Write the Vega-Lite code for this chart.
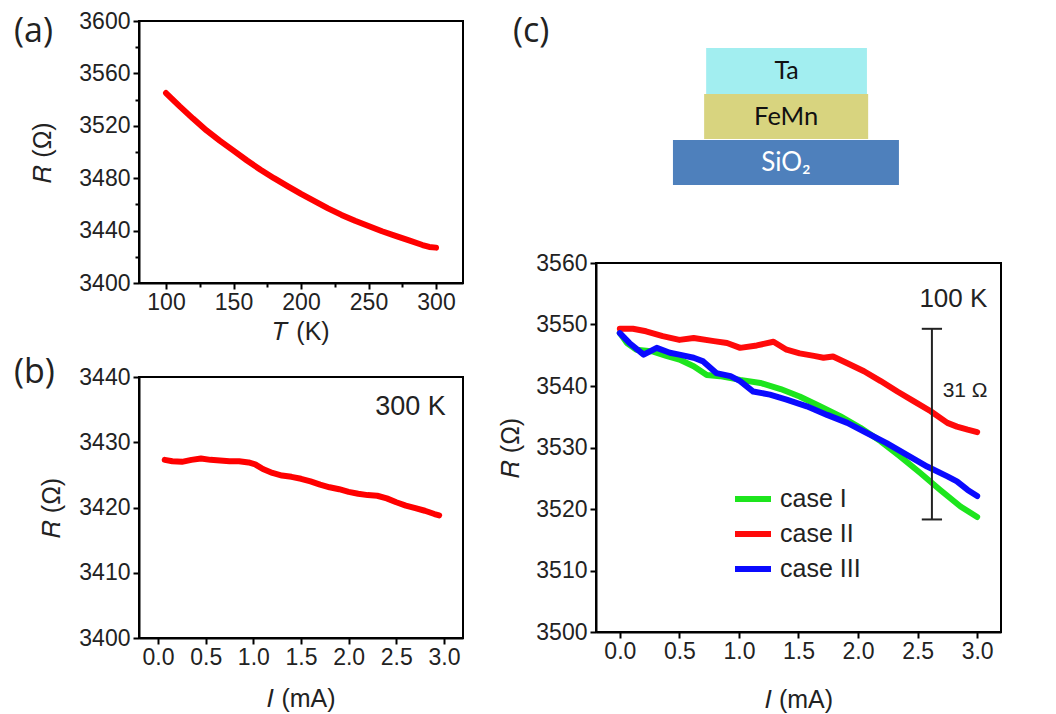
{
  "$schema": "https://vega.github.io/schema/vega-lite/v6.json",
  "background": "white",
  "padding": {"left": 13, "top": 9, "right": 5, "bottom": 0},
  "datasets": {
    "a": [
      {"T": 100, "R": 3545}, {"T": 110, "R": 3535}, {"T": 120, "R": 3525.5}, {"T": 130, "R": 3516.5},
      {"T": 140, "R": 3508.5}, {"T": 150, "R": 3501}, {"T": 160, "R": 3493.5}, {"T": 170, "R": 3486.5},
      {"T": 180, "R": 3480}, {"T": 190, "R": 3474}, {"T": 200, "R": 3468}, {"T": 210, "R": 3462.5},
      {"T": 220, "R": 3457}, {"T": 230, "R": 3452}, {"T": 240, "R": 3447.5}, {"T": 250, "R": 3443.5},
      {"T": 260, "R": 3439.5}, {"T": 270, "R": 3436}, {"T": 280, "R": 3432.5}, {"T": 290, "R": 3429},
      {"T": 295, "R": 3427.5}, {"T": 300, "R": 3427}
    ],
    "b": [
      {"I": 0.07, "R": 3427.3}, {"I": 0.15, "R": 3427.1}, {"I": 0.25, "R": 3427.0}, {"I": 0.35, "R": 3427.3},
      {"I": 0.45, "R": 3427.5}, {"I": 0.55, "R": 3427.3}, {"I": 0.65, "R": 3427.2}, {"I": 0.75, "R": 3427.1},
      {"I": 0.85, "R": 3427.1}, {"I": 0.95, "R": 3426.9}, {"I": 1.02, "R": 3426.6}, {"I": 1.1, "R": 3425.9},
      {"I": 1.2, "R": 3425.3}, {"I": 1.3, "R": 3424.9}, {"I": 1.4, "R": 3424.7}, {"I": 1.5, "R": 3424.4},
      {"I": 1.6, "R": 3424.0}, {"I": 1.7, "R": 3423.5}, {"I": 1.8, "R": 3423.1}, {"I": 1.9, "R": 3422.8},
      {"I": 2.0, "R": 3422.4}, {"I": 2.1, "R": 3422.1}, {"I": 2.2, "R": 3421.9}, {"I": 2.3, "R": 3421.8},
      {"I": 2.4, "R": 3421.4}, {"I": 2.5, "R": 3420.8}, {"I": 2.6, "R": 3420.3}, {"I": 2.7, "R": 3419.9},
      {"I": 2.8, "R": 3419.5}, {"I": 2.9, "R": 3419.0}, {"I": 2.95, "R": 3418.8}
    ],
    "c": [
      {"case": "case I", "I": 0, "R": 3548.6}, {"case": "case I", "I": 0.06, "R": 3547.0},
      {"case": "case I", "I": 0.14, "R": 3545.9}, {"case": "case I", "I": 0.28, "R": 3545.6},
      {"case": "case I", "I": 0.39, "R": 3544.9}, {"case": "case I", "I": 0.5, "R": 3544.3},
      {"case": "case I", "I": 0.62, "R": 3543.2}, {"case": "case I", "I": 0.73, "R": 3541.8},
      {"case": "case I", "I": 0.84, "R": 3541.6}, {"case": "case I", "I": 1.01, "R": 3541.0},
      {"case": "case I", "I": 1.18, "R": 3540.5}, {"case": "case I", "I": 1.35, "R": 3539.5},
      {"case": "case I", "I": 1.51, "R": 3538.3}, {"case": "case I", "I": 1.68, "R": 3536.7},
      {"case": "case I", "I": 1.85, "R": 3535.1}, {"case": "case I", "I": 2.02, "R": 3533.2},
      {"case": "case I", "I": 2.19, "R": 3531.0}, {"case": "case I", "I": 2.35, "R": 3528.6},
      {"case": "case I", "I": 2.52, "R": 3525.9}, {"case": "case I", "I": 2.69, "R": 3523.1},
      {"case": "case I", "I": 2.86, "R": 3520.4}, {"case": "case I", "I": 3.0, "R": 3518.7},
      {"case": "case II", "I": 0, "R": 3549.3}, {"case": "case II", "I": 0.11, "R": 3549.3},
      {"case": "case II", "I": 0.22, "R": 3548.9}, {"case": "case II", "I": 0.36, "R": 3548.1},
      {"case": "case II", "I": 0.5, "R": 3547.5}, {"case": "case II", "I": 0.62, "R": 3547.8},
      {"case": "case II", "I": 0.79, "R": 3547.3}, {"case": "case II", "I": 0.9, "R": 3547.0},
      {"case": "case II", "I": 1.01, "R": 3546.2}, {"case": "case II", "I": 1.15, "R": 3546.6},
      {"case": "case II", "I": 1.29, "R": 3547.2}, {"case": "case II", "I": 1.4, "R": 3545.9},
      {"case": "case II", "I": 1.51, "R": 3545.3}, {"case": "case II", "I": 1.63, "R": 3544.9},
      {"case": "case II", "I": 1.71, "R": 3544.6}, {"case": "case II", "I": 1.79, "R": 3544.8},
      {"case": "case II", "I": 1.91, "R": 3543.7}, {"case": "case II", "I": 2.05, "R": 3542.4},
      {"case": "case II", "I": 2.19, "R": 3540.8}, {"case": "case II", "I": 2.33, "R": 3539.1},
      {"case": "case II", "I": 2.47, "R": 3537.5}, {"case": "case II", "I": 2.61, "R": 3535.9},
      {"case": "case II", "I": 2.75, "R": 3534.0}, {"case": "case II", "I": 2.83, "R": 3533.4},
      {"case": "case II", "I": 2.92, "R": 3532.9}, {"case": "case II", "I": 3.0, "R": 3532.5},
      {"case": "case III", "I": 0, "R": 3548.6}, {"case": "case III", "I": 0.08, "R": 3547.0},
      {"case": "case III", "I": 0.2, "R": 3545.1}, {"case": "case III", "I": 0.31, "R": 3546.2},
      {"case": "case III", "I": 0.42, "R": 3545.4}, {"case": "case III", "I": 0.5, "R": 3545.1},
      {"case": "case III", "I": 0.62, "R": 3544.6}, {"case": "case III", "I": 0.7, "R": 3544.0},
      {"case": "case III", "I": 0.81, "R": 3542.1}, {"case": "case III", "I": 0.93, "R": 3541.6},
      {"case": "case III", "I": 1.01, "R": 3540.8}, {"case": "case III", "I": 1.12, "R": 3539.1},
      {"case": "case III", "I": 1.26, "R": 3538.6}, {"case": "case III", "I": 1.4, "R": 3537.8},
      {"case": "case III", "I": 1.57, "R": 3536.7}, {"case": "case III", "I": 1.74, "R": 3535.3},
      {"case": "case III", "I": 1.91, "R": 3534.0}, {"case": "case III", "I": 2.07, "R": 3532.4},
      {"case": "case III", "I": 2.24, "R": 3530.7}, {"case": "case III", "I": 2.41, "R": 3528.8},
      {"case": "case III", "I": 2.58, "R": 3526.9}, {"case": "case III", "I": 2.75, "R": 3525.3},
      {"case": "case III", "I": 2.83, "R": 3524.5}, {"case": "case III", "I": 2.92, "R": 3523.1},
      {"case": "case III", "I": 3.0, "R": 3522.1}
    ],
    "bar": [{"I": 2.62, "lo": 3518.3, "hi": 3549.3}],
    "caps": [{"I1": 2.535, "I2": 2.705, "R": 3518.3}, {"I1": 2.535, "I2": 2.705, "R": 3549.3}],
    "annoB": [{"I": 2.65, "R": 3434.2, "label": "300 K"}],
    "annoC1": [{"I": 2.8, "R": 3552.8, "label": "100 K"}],
    "annoC2": [{"I": 2.71, "R": 3538.2, "label": "31 Ω"}],
    "layers": [
      {"layer": "Ta", "x1": 27.2, "x2": 66.9, "y1": 63.5, "y2": 86.5},
      {"layer": "FeMn", "x1": 26.7, "x2": 67.2, "y1": 41, "y2": 63.5},
      {"layer": "SiO₂", "x1": 19.0, "x2": 74.8, "y1": 18, "y2": 40.5}
    ]
  },
  "hconcat": [
    {
      "vconcat": [
        {
          "width": 324, "height": 262,
          "title": {"text": "(a)", "anchor": "start", "frame": "group", "baseline": "top", "dx": -125, "dy": 39, "offset": 0},
          "data": {"name": "a"},
          "mark": {"type": "line", "color": "#FF0000", "strokeWidth": 6, "strokeCap": "round", "strokeJoin": "round"},
          "encoding": {
            "x": {"field": "T", "type": "quantitative", "scale": {"domain": [80, 320], "nice": false, "zero": false},
              "axis": {"title": "𝑇 (K)", "values": [100, 125, 150, 175, 200, 225, 250, 275, 300],
                "labelExpr": "datum.value % 50 === 0 ? datum.label : ''",
                "tickSize": {"condition": {"test": "datum.value % 50 === 0", "value": 6}, "value": 4},
                "labelPadding": 2, "titlePadding": 5}},
            "y": {"field": "R", "type": "quantitative", "scale": {"domain": [3400, 3600], "nice": false, "zero": false},
              "axis": {"title": "𝑅 (Ω)", "format": "d", "values": [3400, 3420, 3440, 3460, 3480, 3500, 3520, 3540, 3560, 3580, 3600],
                "labelExpr": "datum.value % 40 === 0 ? datum.label : ''",
                "tickSize": {"condition": {"test": "datum.value % 40 === 0", "value": 6}, "value": 4},
                "labelPadding": 3, "titlePadding": 23}}
          }
        },
        {
          "width": 324, "height": 261,
          "title": {"text": "(b)", "anchor": "start", "frame": "group", "baseline": "top", "dx": -125, "dy": 24, "offset": 0},
          "layer": [
            {
              "data": {"name": "b"},
              "mark": {"type": "line", "color": "#FF0000", "strokeWidth": 6, "strokeCap": "round", "strokeJoin": "round"},
              "encoding": {
                "x": {"field": "I", "type": "quantitative", "scale": {"domain": [-0.2, 3.2], "nice": false, "zero": false},
                  "axis": {"title": "𝐼 (mA)", "format": ".1f", "values": [0, 0.25, 0.5, 0.75, 1, 1.25, 1.5, 1.75, 2, 2.25, 2.5, 2.75, 3],
                    "labelExpr": "datum.value % 0.5 === 0 ? datum.label : ''",
                    "tickSize": {"condition": {"test": "datum.value % 0.5 === 0", "value": 6}, "value": 4},
                    "labelPadding": 2, "titlePadding": 17}},
                "y": {"field": "R", "type": "quantitative", "scale": {"domain": [3400, 3440], "nice": false, "zero": false},
                  "axis": {"title": "𝑅 (Ω)", "format": "d", "values": [3400, 3405, 3410, 3415, 3420, 3425, 3430, 3435, 3440],
                    "labelExpr": "datum.value % 10 === 0 ? datum.label : ''",
                    "tickSize": {"condition": {"test": "datum.value % 10 === 0", "value": 6}, "value": 4},
                    "labelPadding": 3, "titlePadding": 14}}
              }
            },
            {
              "data": {"name": "annoB"},
              "mark": {"type": "text", "font": "Liberation Sans", "fontSize": 27, "align": "center", "baseline": "alphabetic", "color": "#222"},
              "encoding": {
                "x": {"field": "I", "type": "quantitative"},
                "y": {"field": "R", "type": "quantitative"},
                "text": {"field": "label"}
              }
            }
          ]
        }
      ],
      "spacing": 94,
      "bounds": "flush"
    },
    {
      "vconcat": [
        {
          "width": 405, "height": 200,
          "view": {"stroke": null, "fill": "white"},
          "title": {"text": "(c)", "anchor": "start", "frame": "group", "baseline": "top", "dx": -83, "dy": 28, "offset": 0},
          "data": {"name": "layers"},
          "transform": [
            {"calculate": "(datum.x1 + datum.x2) / 2", "as": "xc"},
            {"calculate": "(datum.y1 + datum.y2) / 2", "as": "yc"}
          ],
          "layer": [
            {
              "mark": {"type": "rect"},
              "encoding": {
                "x": {"field": "x1", "type": "quantitative", "scale": {"domain": [0, 100], "nice": false, "zero": false}, "axis": null},
                "x2": {"field": "x2"},
                "y": {"field": "y1", "type": "quantitative", "scale": {"domain": [0, 100], "nice": false, "zero": false}, "axis": null},
                "y2": {"field": "y2"},
                "fill": {"field": "layer", "type": "nominal", "scale": {"domain": ["Ta", "FeMn", "SiO₂"], "range": ["#A2EEF0", "#D8D47F", "#4E80BC"]}, "legend": null}
              }
            },
            {
              "mark": {"type": "text", "font": "Lato", "align": "center", "baseline": "middle"},
              "encoding": {
                "x": {"field": "xc", "type": "quantitative", "axis": null},
                "y": {"field": "yc", "type": "quantitative", "axis": null},
                "text": {"field": "layer"},
                "size": {"field": "layer", "type": "ordinal", "scale": {"domain": ["Ta", "FeMn", "SiO₂"], "range": [25, 26, 30]}, "legend": null},
                "color": {"condition": {"test": "datum.layer === 'SiO₂'", "value": "white"}, "value": "#111"}
              }
            }
          ]
        },
        {
          "width": 405, "height": 369,
          "layer": [
            {
              "data": {"name": "c"},
              "mark": {"type": "line", "strokeWidth": 6, "strokeCap": "round", "strokeJoin": "round"},
              "encoding": {
                "x": {"field": "I", "type": "quantitative", "scale": {"domain": [-0.2, 3.2], "nice": false, "zero": false},
                  "axis": {"title": "𝐼 (mA)", "format": ".1f", "values": [0, 0.25, 0.5, 0.75, 1, 1.25, 1.5, 1.75, 2, 2.25, 2.5, 2.75, 3],
                    "labelExpr": "datum.value % 0.5 === 0 ? datum.label : ''",
                    "tickSize": {"condition": {"test": "datum.value % 0.5 === 0", "value": 6}, "value": 4},
                    "labelPadding": 2, "titlePadding": 24}},
                "y": {"field": "R", "type": "quantitative", "scale": {"domain": [3500, 3560], "nice": false, "zero": false},
                  "axis": {"title": "𝑅 (Ω)", "format": "d", "values": [3500, 3505, 3510, 3515, 3520, 3525, 3530, 3535, 3540, 3545, 3550, 3555, 3560],
                    "labelExpr": "datum.value % 10 === 0 ? datum.label : ''",
                    "tickSize": {"condition": {"test": "datum.value % 10 === 0", "value": 6}, "value": 4},
                    "labelPadding": 3, "titlePadding": 12}},
                "color": {"field": "case", "type": "nominal",
                  "scale": {"domain": ["case I", "case II", "case III"], "range": ["#1DE51D", "#FF0A0A", "#0A0AFF"]},
                  "legend": {"title": null, "orient": "none", "legendX": 136, "legendY": 215, "symbolType": "stroke",
                    "symbolSize": 1296, "symbolStrokeWidth": 6, "labelFontSize": 25, "labelFont": "Liberation Sans",
                    "labelColor": "#222", "labelOffset": 6, "rowPadding": 1, "padding": 0}}
              }
            },
            {
              "data": {"name": "bar"},
              "mark": {"type": "rule", "color": "#222", "strokeWidth": 2},
              "encoding": {
                "x": {"field": "I", "type": "quantitative"},
                "y": {"field": "lo", "type": "quantitative"},
                "y2": {"field": "hi"}
              }
            },
            {
              "data": {"name": "caps"},
              "mark": {"type": "rule", "color": "#222", "strokeWidth": 2},
              "encoding": {
                "x": {"field": "I1", "type": "quantitative"},
                "x2": {"field": "I2"},
                "y": {"field": "R", "type": "quantitative"}
              }
            },
            {
              "data": {"name": "annoC1"},
              "mark": {"type": "text", "font": "Liberation Sans", "fontSize": 26, "align": "center", "baseline": "alphabetic", "color": "#222"},
              "encoding": {
                "x": {"field": "I", "type": "quantitative"},
                "y": {"field": "R", "type": "quantitative"},
                "text": {"field": "label"}
              }
            },
            {
              "data": {"name": "annoC2"},
              "mark": {"type": "text", "font": "Liberation Sans", "fontSize": 21, "align": "left", "baseline": "alphabetic", "color": "#222"},
              "encoding": {
                "x": {"field": "I", "type": "quantitative"},
                "y": {"field": "R", "type": "quantitative"},
                "text": {"field": "label"}
              }
            }
          ]
        }
      ],
      "spacing": 42,
      "bounds": "flush",
      "resolve": {"scale": {"color": "independent"}, "legend": {"color": "independent"}}
    }
  ],
  "spacing": 33,
  "resolve": {"scale": {"color": "independent"}, "legend": {"color": "independent"}},
  "config": {
    "view": {"stroke": "black", "strokeWidth": 2},
    "axis": {"domainColor": "black", "domainWidth": 2, "tickColor": "black", "tickWidth": 2,
      "labelFont": "Liberation Sans", "labelFontSize": 23, "labelColor": "#222",
      "titleFont": "Liberation Sans", "titleFontSize": 25, "titleFontWeight": "normal", "titleColor": "#222",
      "grid": false, "labelFlush": false, "labelOverlap": false},
    "title": {"font": "Open Sans", "fontSize": 34, "fontWeight": "normal", "color": "#222"}
  }
}
